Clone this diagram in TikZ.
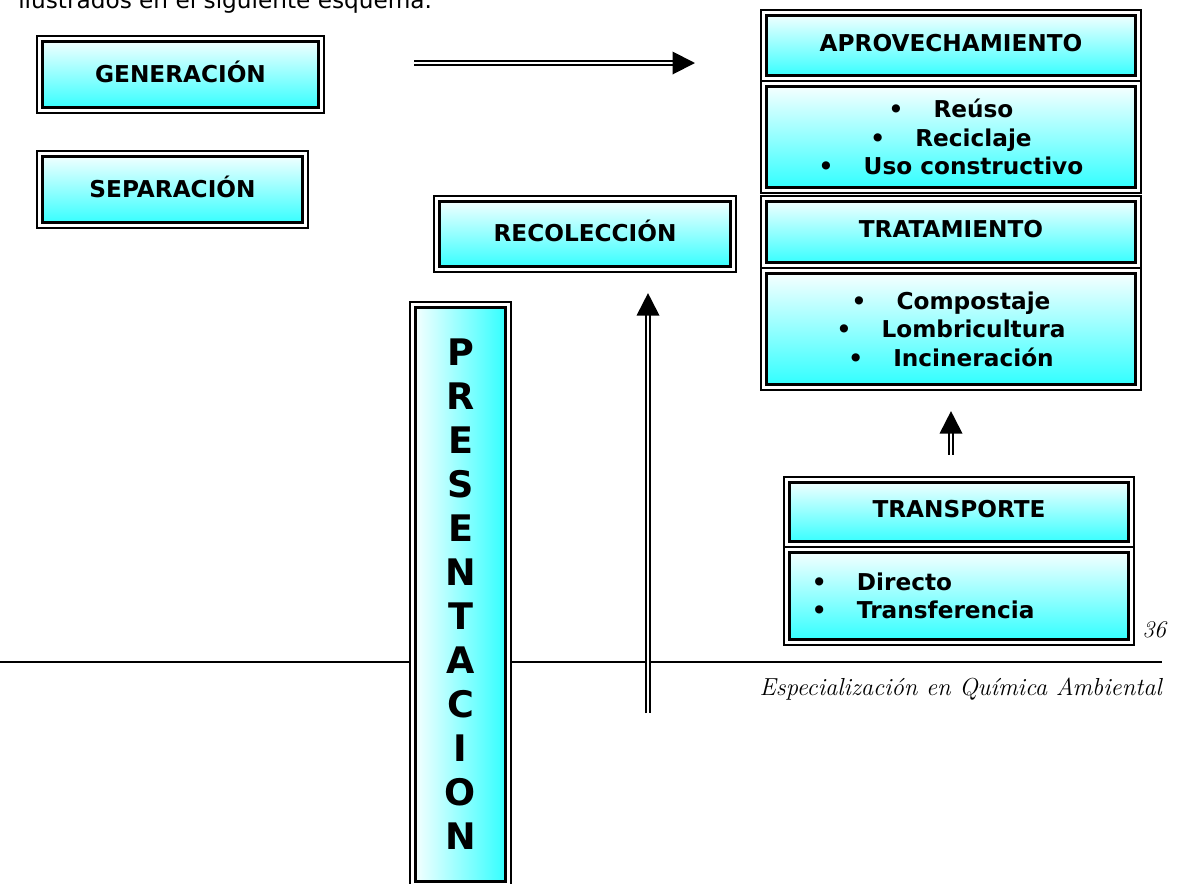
\documentclass[tikz,border=0pt]{standalone}
\usepackage{fontspec}
\usepackage{tikz}
\usetikzlibrary{arrows.meta, positioning, calc}
\newfontfamily\tah{DejaVu Sans}
\definecolor{boxcyan}{RGB}{40, 255, 255}
\newcommand{\bul}{\makebox[32pt][l]{\textbullet}}

\begin{document}
\begin{tikzpicture}[
  x=0.025cm, y=-0.025cm,
  dbl/.style={draw, line width=1.5pt, fill=white, inner sep=0pt,
              font=\tah\bfseries\fontsize{16.5}{20.3}\selectfont, align=center,
              path picture={\draw[line width=2.2pt, #1]
                ([shift={(4.2pt,4.2pt)}]path picture bounding box.south west) rectangle
                ([shift={(-4.2pt,-4.2pt)}]path picture bounding box.north east);}},
  dbl/.default={top color=white, bottom color=boxcyan},
  head/.style={text depth=4pt},
  dblarrow/.style={double, line width=1.4pt, double distance=1.6pt,
                   -{Triangle[length=16pt, width=16pt]}}
]
  \useasboundingbox (0,0) rectangle (1177,883);

  \node[anchor=base west, inner sep=0pt, font=\tah\fontsize{16.5}{19}\selectfont]
    (intro) at (18,8) {ilustrados en el siguiente esquema.};

  % left column
  \node[dbl, head, minimum width=7.175cm, minimum height=1.925cm] (gen) at (180.5,74.5) {GENERACIÓN};
  \node[dbl, head, minimum width=6.775cm, minimum height=1.925cm] (sep) at (172.5,189.5) {SEPARACIÓN};
  \node[dbl, head, minimum width=7.55cm,  minimum height=1.9cm]   (rec) at (585,234) {RECOLECCIÓN};

  % footer rule
  \coordinate (rl) at (0,662);
  \coordinate (rr) at (1162,662);
  \draw[line width=1pt] (rl) -- (rr);

  \node[dbl={left color=white, right color=boxcyan}, minimum width=2.525cm, minimum height=14.625cm,
        font=\tah\bfseries\fontsize{26}{31.3}\selectfont] (pres) at (460.5,594.5)
        {P\\R\\E\\S\\E\\N\\T\\A\\C\\I\\O\\N};

  % right column
  \node[dbl, head, minimum width=9.5cm, minimum height=1.775cm] (apr) at (951,45.5) {APROVECHAMIENTO};
  \node[dbl, minimum width=9.5cm, minimum height=2.8cm]   (al)  at (951,137)
    {\bul Reúso\\\bul Reciclaje\\\bul Uso constructivo};
  \node[dbl, head, minimum width=9.5cm, minimum height=1.8cm]   (tr)  at (951,232) {TRATAMIENTO};
  \node[dbl, minimum width=9.5cm, minimum height=3.05cm]  (tl)  at (951,329)
    {\bul Compostaje\\\bul Lombricultura\\\bul Incineración};
  \node[dbl, head, minimum width=8.75cm, minimum height=1.75cm] (tra) at (959,512) {TRANSPORTE};
  \node[dbl, minimum width=8.75cm, minimum height=2.45cm, align=left,
        text width=7.35cm, inner xsep=0.7cm] (tral) at (959,596)
    {\bul Directo\\\bul Transferencia};

  % arrows
  \coordinate (ha) at (414,63);
  \coordinate (hb) at (695,63);
  \draw[dblarrow] (ha) -- (hb);
  \coordinate (va) at (648,713);
  \draw[dblarrow, shorten >=0.5cm] (va) -- (va |- rec.south);
  \draw[dblarrow, shorten <=0.525cm, shorten >=0.5cm] (tl.south |- tra.north) -- (tl.south);

  \node[anchor=base west, inner sep=0pt, font=\itshape\fontsize{17}{18}\selectfont] (pag) at (1142,637) {36};
  \node[anchor=base east, inner sep=0pt, font=\itshape\fontsize{17.5}{19}\selectfont] (foot) at (1162,695)
    {Especialización en Química Ambiental};
\end{tikzpicture}
\end{document}
